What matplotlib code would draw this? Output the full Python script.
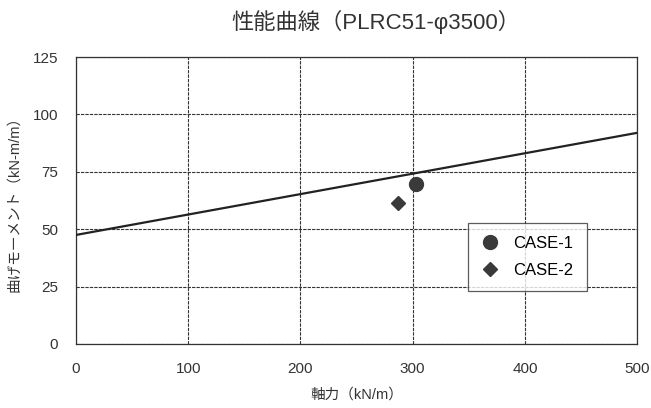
import matplotlib.pyplot as plt

plt.rcParams['font.family'] = ['Liberation Sans', 'Noto Sans CJK JP', 'DejaVu Sans']

# performance curve (axial force vs bending moment)
curve_n = [0, 500]
curve_m = [47.5, 92.0]

# load cases
case_names = ["CASE-1", "CASE-2"]
case_n = [303, 287]
case_m = [69.5, 61.5]
case_markers = ["o", "D"]

fig = plt.figure(figsize=(6.51, 4.08), dpi=100)
ax = fig.add_axes([0.1167, 0.157, 0.862, 0.703])

ax.plot(curve_n, curve_m, color='#222222', lw=1.6, zorder=3)
for name, n, m, mk in zip(case_names, case_n, case_m, case_markers):
    ax.plot(n, m, linestyle='none', marker=mk, color='#3a3a3a',
            markersize=10 if mk == "o" else 7.5, label=name, zorder=4)

ax.set_xlim(0, 500)
ax.set_ylim(0, 125)
ax.set_xticks(range(0, 501, 100))
ax.set_yticks(range(0, 126, 25))
ax.grid(True, color='#333333', linestyle=(0, (3, 1)), lw=0.8)
ax.tick_params(axis='x', length=0, labelsize=11, colors='#333333', pad=13)
ax.tick_params(axis='y', length=0, labelsize=11, colors='#333333', pad=13)
for s in ax.spines.values():
    s.set_color('#333333')
    s.set_linewidth(0.9)

ax.set_xlabel("軸力（kN/m）", fontsize=10.5, color='#333333', labelpad=8)
ax.set_ylabel("曲げモーメント（kN-m/m）", fontsize=10.5, color='#333333', labelpad=8)
fig.suptitle("性能曲線（PLRC51-φ3500）", fontsize=16, x=0.578, y=0.975, color='#333333')

leg = ax.legend(loc='lower left', bbox_to_anchor=(0.699, 0.185), frameon=True,
                fancybox=False, edgecolor='#333333', fontsize=12,
                handlelength=1.0, handletextpad=0.9, borderpad=0.8,
                labelspacing=0.7, borderaxespad=0)
leg.get_frame().set_linewidth(0.9)

fig.savefig("out.png", dpi=100)
